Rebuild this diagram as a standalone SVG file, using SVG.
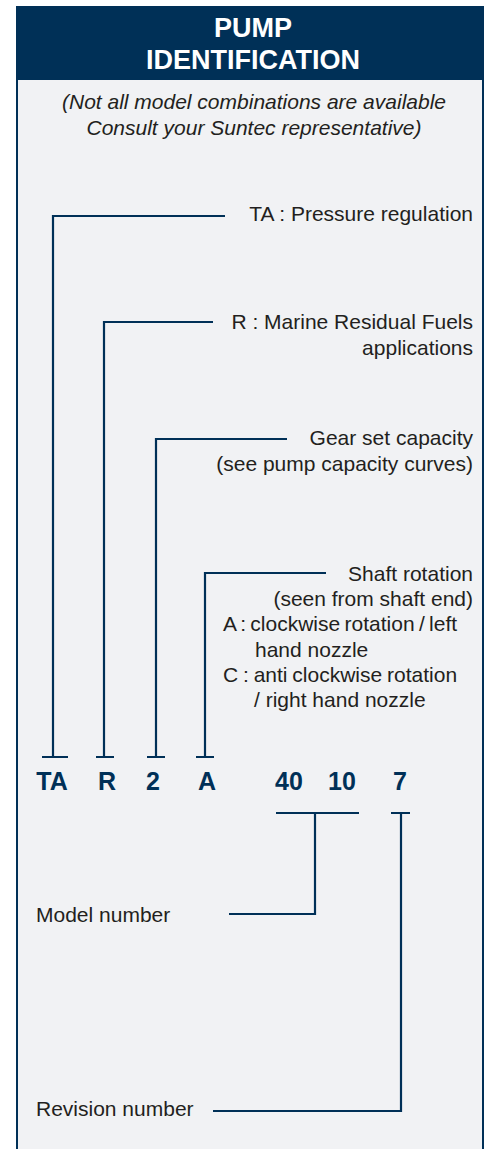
<svg xmlns="http://www.w3.org/2000/svg" width="489" height="1149" viewBox="0 0 489 1149">
<style>
.lbl{font-family:"Liberation Sans",Arial,sans-serif;font-size:21px;fill:#231f20}
.sub{font-family:"Liberation Sans",Arial,sans-serif;font-size:21px;font-style:italic;fill:#231f20}
.ttl{font-family:"Liberation Sans",Arial,sans-serif;font-size:27px;font-weight:bold;fill:#ffffff}
.code{font-family:"Liberation Sans",Arial,sans-serif;font-size:25px;font-weight:bold;fill:#003057}
.ln{fill:none;stroke:#003057;stroke-width:2.2}
</style>
<rect x="0" y="0" width="489" height="1149" fill="#ffffff"/>
<g id="frame">
<rect x="17" y="7" width="466" height="1160" fill="#f1f2f4" stroke="#003057" stroke-width="2"/>
<rect x="17" y="7" width="466" height="73" fill="#003057"/>
<text class="ttl" x="253" y="37" text-anchor="middle">PUMP</text>
<text class="ttl" x="253" y="69" text-anchor="middle">IDENTIFICATION</text>
<text class="sub" x="254" y="109" text-anchor="middle">(Not all model combinations are available</text>
<text class="sub" x="254" y="135" text-anchor="middle">Consult your Suntec representative)</text>
</g>
<g id="connectors">
<path class="ln" d="M225 216H53V757M42 757H68"/>
<path class="ln" d="M213 322H104V757M96 757H114"/>
<path class="ln" d="M287 439H156V757M147 757H165"/>
<path class="ln" d="M326 573H205V757M196 757H214"/>
<path class="ln" d="M276 813H359M315 813V914H229"/>
<path class="ln" d="M391 813H410M401 813V1111H213"/>
</g>
<g id="label-ta"><text class="lbl" x="473" y="221" text-anchor="end">TA : Pressure regulation</text></g>
<g id="label-r">
<text class="lbl" x="473" y="329" text-anchor="end">R : Marine Residual Fuels</text>
<text class="lbl" x="473" y="355" text-anchor="end">applications</text>
</g>
<g id="label-gear">
<text class="lbl" x="473" y="445" text-anchor="end">Gear set capacity</text>
<text class="lbl" x="473" y="471" text-anchor="end">(see pump capacity curves)</text>
</g>
<g id="label-shaft">
<text class="lbl" x="473" y="581" text-anchor="end">Shaft rotation</text>
<text class="lbl" x="473" y="606" text-anchor="end">(seen from shaft end)</text>
<text class="lbl" x="223" y="631" word-spacing="-1.5">A : clockwise rotation / left</text>
<text class="lbl" x="255" y="657">hand nozzle</text>
<text class="lbl" x="223" y="682" word-spacing="-1">C : anti clockwise rotation</text>
<text class="lbl" x="254" y="707">/ right hand nozzle</text>
</g>
<g id="codes">
<text class="code" x="52" y="790" text-anchor="middle">TA</text>
<text class="code" x="107" y="790" text-anchor="middle">R</text>
<text class="code" x="153" y="790" text-anchor="middle">2</text>
<text class="code" x="207" y="790" text-anchor="middle">A</text>
<text class="code" x="289" y="790" text-anchor="middle">40</text>
<text class="code" x="342" y="790" text-anchor="middle">10</text>
<text class="code" x="400" y="790" text-anchor="middle">7</text>
</g>
<g id="label-model"><text class="lbl" x="36" y="922">Model number</text></g>
<g id="label-revision"><text class="lbl" x="36" y="1116">Revision number</text></g>
</svg>
